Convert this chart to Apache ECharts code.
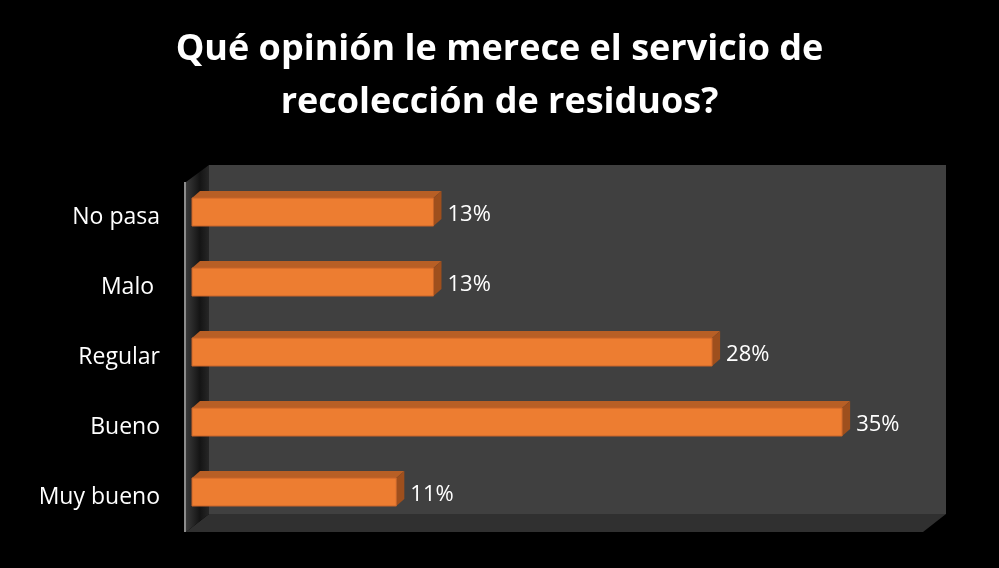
<!DOCTYPE html>
<html>
<head>
<meta charset="utf-8">
<script src="https://cdn.jsdelivr.net/npm/echarts@6/dist/echarts.min.js"></script>
<style>
  html, body { margin: 0; padding: 0; background: #000; }
  #chart { width: 999px; height: 568px; }
</style>
</head>
<body>
<div id="chart"></div>
<script>
const categories = ['No pasa', 'Malo ', 'Regular', 'Bueno', 'Muy bueno']
const values = [13, 13, 28, 35, 11]
const titleLines = ['Qué opinión le merece el servicio de', 'recolección de residuos?']

const chart = echarts.init(document.getElementById('chart'))

// bar depth (pixels) and shift of bars behind the front plane
const DX = 8, DY = -7, SHIFT_X = 6, SHIFT_Y = -5

function renderBar(params, api) {
    const idx = api.value(1)
    const start = api.coord([0, idx])
    const end = api.coord([api.value(0), idx])
    const h = api.size([0, 1])[1] * 0.4
    const x0 = start[0] + SHIFT_X
    const x1 = end[0] + SHIFT_X
    const yc = start[1] + SHIFT_Y
    const top = yc - h / 2
    const bottom = yc + h / 2
    return {
        type: 'group',
        children: [
            {
                type: 'polygon',
                shape: { points: [[x0, top], [x0 + DX, top + DY], [x1 + DX, top + DY], [x1, top]] },
                style: { fill: '#B85F25' }
            },
            {
                type: 'polygon',
                shape: { points: [[x1, top], [x1 + DX, top + DY], [x1 + DX, bottom + DY], [x1, bottom]] },
                style: { fill: '#9E4F1D' }
            },
            {
                type: 'rect',
                shape: { x: x0, y: top, width: x1 - x0, height: h },
                style: { fill: '#ED7D31', stroke: '#C8652A', lineWidth: 1 }
            },
            {
                type: 'text',
                x: x1 + DX + 6,
                y: yc + 3,
                style: {
                    text: api.value(0) + '%',
                    fill: '#fff',
                    fontSize: 22,
                    fontFamily: 'Open Sans',
                    verticalAlign: 'middle',
                    align: 'left'
                }
            }
        ]
    }
}

const titleStyle = {
    color: '#fff',
    fontSize: 36,
    fontWeight: 'bold',
    fontFamily: 'Open Sans'
}

chart.setOption({
    backgroundColor: '#000',
    title: titleLines.map((t, i) => ({
        text: t,
        left: 'center',
        top: 27 + i * 53,
        textStyle: titleStyle
    })),
    graphic: [
        // back wall
        { type: 'rect', shape: { x: 209, y: 165, width: 737, height: 349 }, style: { fill: '#404040' }, z: -10 },
        // floor
        { type: 'polygon', shape: { points: [[186, 532], [209, 514], [946, 514], [923, 532]] }, style: { fill: '#303030' }, z: -10 },
        // side wall
        {
            type: 'polygon',
            shape: { points: [[186, 182], [209, 165], [209, 514], [186, 532]] },
            style: {
                fill: new echarts.graphic.LinearGradient(0, 0, 1, 0, [
                    { offset: 0, color: '#3a3a3a' },
                    { offset: 0.6, color: '#141414' },
                    { offset: 1, color: '#262626' }
                ])
            },
            z: -10
        },
        // axis line
        { type: 'line', shape: { x1: 185, y1: 182, x2: 185, y2: 532 }, style: { stroke: '#8c8c8c', lineWidth: 2 }, z: -5 }
    ],
    grid: { left: 186, right: 70, top: 182, bottom: 36 },
    xAxis: {
        type: 'value',
        min: 0,
        max: 40,
        show: false
    },
    yAxis: {
        type: 'category',
        data: categories,
        inverse: true,
        axisLine: { show: false },
        axisTick: { show: false },
        axisLabel: {
            color: '#fff',
            fontSize: 23,
            fontFamily: 'Open Sans',
            margin: 26
        }
    },
    series: [{
        type: 'custom',
        renderItem: renderBar,
        encode: { x: 0, y: 1 },
        data: values.map((v, i) => [v, i])
    }]
})
</script>
</body>
</html>
